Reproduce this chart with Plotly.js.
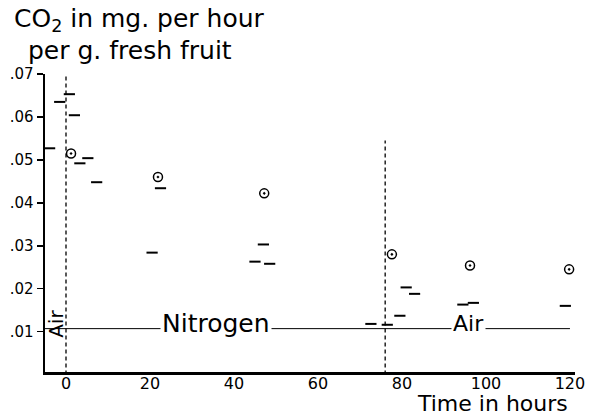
<!DOCTYPE html>
<html>
<head>
<meta charset="utf-8">
<script src="https://cdn.plot.ly/plotly-3.0.1.min.js"></script>
<style>html,body{margin:0;padding:0;background:#fff;}#chart{width:589px;height:418px;}</style>
</head>
<body>
<div id="chart"></div>
<script>
// Circle-dot readings (hours, mg CO2 per hour per g)
var circleHours = [1.2, 21.9, 47.2, 77.6, 96.2, 119.8];
var circleValues = [0.0515, 0.046, 0.0422, 0.028, 0.0254, 0.0245];

// Short dash readings
var dashHours = [-3.9, -1.5, 0.8, 2.0, 3.3, 5.2, 7.3, 20.5, 22.5, 45.0, 47.0, 48.5, 72.6, 76.5, 79.5, 81.0, 83.0, 94.5, 97.0, 118.9];
var dashValues = [0.0527, 0.0635, 0.0653, 0.0604, 0.0492, 0.0504, 0.0448, 0.0284, 0.0434, 0.0263, 0.0303, 0.0258, 0.0118, 0.0116, 0.0137, 0.0203, 0.0188, 0.0163, 0.0167, 0.016];

// Atmosphere change markers (hours) and their top values
var switchHours = [0, 76];
var switchTops = [0.07, 0.0545];

// Reference line level and extent
var refLevel = 0.0107;
var refStart = -5;
var refEnd = 120;

// Labels
var phaseLabels = ["Nitrogen", "Air"];
var phaseHours = [35.7, 95.8];
var yTickVals = [0.01, 0.02, 0.03, 0.04, 0.05, 0.06, 0.07];
var yTickText = [".01", ".02", ".03", ".04", ".05", ".06", ".07"];
var xTickVals = [0, 20, 40, 60, 80, 100, 120];
var xTickText = ["0", "20", "40", "60", "80", "100", "120"];

var FONT = "DejaVu Sans, sans-serif";

var traces = [];
// dashed vertical lines
for (var i = 0; i < switchHours.length; i++) {
  traces.push({
    x: [switchHours[i], switchHours[i]], y: [0, switchTops[i]],
    mode: "lines", line: {color: "#000", width: 1.3, dash: "4px,3px"},
    hoverinfo: "skip", showlegend: false, cliponaxis: false
  });
}
// horizontal reference line
traces.push({
  x: [refStart, refEnd], y: [refLevel, refLevel],
  mode: "lines", line: {color: "#000", width: 1},
  hoverinfo: "skip", showlegend: false, cliponaxis: false
});
// dashes
traces.push({
  x: dashHours, y: dashValues, mode: "markers",
  marker: {symbol: "line-ew", size: 8, line: {color: "#000", width: 2}},
  showlegend: false, cliponaxis: false
});
// circles
traces.push({
  x: circleHours, y: circleValues, mode: "markers",
  marker: {symbol: "circle-dot", size: 9, color: "rgba(0,0,0,0)", line: {color: "#000", width: 1.5}},
  showlegend: false, cliponaxis: false
});

var annotations = [
  {xref: "paper", yref: "paper", x: -0.062, y: 1.181, xanchor: "left", yanchor: "middle",
   text: "CO<sub>2</sub> in mg. per hour", showarrow: false, font: {family: FONT, size: 25, color: "#000"}},
  {xref: "paper", yref: "paper", x: -0.035, y: 1.080, xanchor: "left", yanchor: "middle",
   text: "per g. fresh fruit", showarrow: false, font: {family: FONT, size: 25, color: "#000"}},
  {xref: "paper", yref: "paper", x: 0.9906, y: -0.155, xanchor: "right", yanchor: "bottom",
   text: "Time in hours", showarrow: false, font: {family: FONT, size: 22, color: "#000"}},
  {xref: "x", yref: "y", x: -2.4, y: 0.0118, xanchor: "center", yanchor: "middle", textangle: -90,
   text: "Air", showarrow: false, font: {family: FONT, size: 20, color: "#000"}}
];
for (var j = 0; j < phaseLabels.length; j++) {
  annotations.push({
    xref: "x", yref: "y", x: phaseHours[j], y: refLevel, yshift: 5,
    xanchor: "center", yanchor: "middle", text: phaseLabels[j], showarrow: false,
    bgcolor: "#fff", borderpad: 1,
    font: {family: FONT, size: j === 0 ? 25 : 22, color: "#000"}
  });
}

var layout = {
  width: 589, height: 418,
  margin: {l: 45, r: 14, t: 74, b: 46, pad: 0},
  paper_bgcolor: "#fff", plot_bgcolor: "#fff",
  showlegend: false,
  xaxis: {
    range: [-5, 121.2], showgrid: false, zeroline: false,
    showline: true, linecolor: "#000", linewidth: 2.5,
    tickmode: "array", tickvals: xTickVals, ticktext: xTickText,
    ticks: "", ticklabelstandoff: -5,
    tickfont: {family: FONT, size: 16, color: "#000"}
  },
  yaxis: {
    range: [0.0006, 0.07], showgrid: false, zeroline: false,
    showline: true, linecolor: "#000", linewidth: 2.5,
    tickmode: "array", tickvals: yTickVals, ticktext: yTickText,
    ticks: "outside", ticklen: 6, tickwidth: 1.5, tickcolor: "#000",
    tickfont: {family: FONT, size: 15, color: "#000"}
  },
  annotations: annotations
};

Plotly.newPlot("chart", traces, layout, {staticPlot: true, displayModeBar: false});
</script>
</body>
</html>
